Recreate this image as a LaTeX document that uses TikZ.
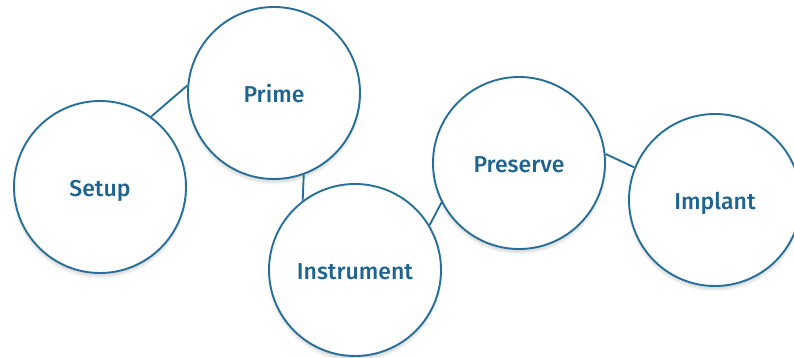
\documentclass[tikz,border=0pt]{standalone}
\usepackage{fontspec}
\setmainfont{Fira Sans}[BoldFont={Fira Sans Medium}]
\usetikzlibrary{shadows.blur}
\definecolor{ringblue}{HTML}{266F98}
\definecolor{textblue}{HTML}{1F6491}
\tikzset{
  stage/.style={circle, draw=ringblue, line width=1.9pt, fill=white,
    minimum size=172pt, inner sep=0pt, text=textblue,
    text height=19pt, text depth=0pt,
    font=\bfseries\fontsize{23}{27}\selectfont,
    blur shadow={shadow xshift=0pt, shadow yshift=-4pt, shadow blur steps=6, shadow opacity=14}},
  link/.style={draw=ringblue, line width=1.9pt}
}
\begin{document}
\begin{tikzpicture}[x=1pt,y=-1pt]
\useasboundingbox (0,0) rectangle (794,358);
\node[stage] (setup) at (100,187) {Setup};
\node[stage] (prime) at (274,93) {Prime};
\node[stage] (instr) at (355,270) {Instrument};
\node[stage] (pres) at (519,163) {Preserve};
\node[stage] (impl) at (715,200) {Implant};
\draw[link] (setup.54.8) -- (prime.175);
\draw[link] (prime.-70.5) -- (instr.127);
\draw[link] (instr.31) -- (pres.207);
\draw[link] (pres.6.5) -- (impl.158);
\end{tikzpicture}
\end{document}
